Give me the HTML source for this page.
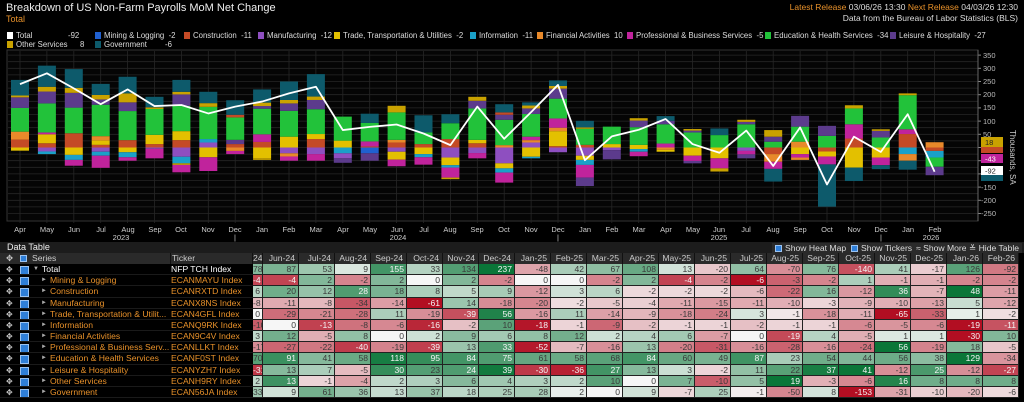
<!DOCTYPE html>
<html><head><meta charset="utf-8">
<style>
*{margin:0;padding:0;box-sizing:border-box}
body{width:1024px;height:402px;background:#000;overflow:hidden;font-family:"Liberation Sans",sans-serif;color:#ddd;position:relative}
.a{position:absolute;white-space:nowrap}
.lg{position:absolute;font-size:7.8px;color:#ddd;white-space:nowrap;top:0}
.sq{display:inline-block;width:6px;height:7px;vertical-align:-1px;margin-right:3px}
#tbl{position:absolute;left:0;top:253px;width:1024px;display:grid;grid-template-columns:171px 82px 10px repeat(21,36px);grid-template-rows:11px repeat(12,11.18px);font-family:"Liberation Sans",sans-serif;font-size:8.6px}
#tbl div{overflow:hidden;white-space:nowrap;line-height:11px}
.h{background:#2a2a2a;color:#ccc;text-align:right;padding-right:3px;border-right:1px solid #111}
.c{text-align:right;padding-right:2px;border-right:1px solid #222;border-bottom:1px solid #222}
.s{color:#e8912a;background:#000;position:relative;padding-left:50px;border-bottom:1px solid #1a1a1a}
.t{color:#e8912a;background:#000;border-bottom:1px solid #1a1a1a}
.s:before{content:"✥";position:absolute;left:6px;top:0;color:#ccc;font-size:8px}
.s:after{content:"";position:absolute;left:20px;top:2px;width:7px;height:7px;background:#2f7fd8;border:1px solid #9cc3f0}
.ar{position:absolute;left:41px;color:#aaa;font-size:6px}
.btn{position:absolute;top:243px;height:10px;background:#2a2a2a;color:#ddd;font-size:8.6px;line-height:10px;padding:0 3px;font-family:"Liberation Sans",sans-serif}
.cb{display:inline-block;width:7px;height:7px;background:#2f7fd8;border:1px solid #9cc3f0;margin-right:3px;vertical-align:-1px}
</style></head><body>
<div class="a" style="left:6px;top:2px;font-size:11px;color:#eee">Breakdown of US Non-Farm Payrolls MoM Net Change</div>
<div class="a" style="left:6px;top:14px;font-size:9px;color:#e8912a">Total</div>
<div class="a" style="right:6px;top:2px;font-size:8.5px"><span style="color:#e8912a">Latest Release</span> <span style="color:#ddd">03/06/26 13:30</span> <span style="color:#e8912a">Next Release</span> <span style="color:#ddd">04/03/26 12:30</span></div>
<div class="a" style="right:6px;top:13px;font-size:8.5px;color:#ddd">Data from the Bureau of Labor Statistics (BLS)</div>

<div class="a" style="left:0;top:30px;width:1024px;height:20px;">
<div class="lg" style="left:7px;top:1px"><span class="sq" style="background:#fff"></span>Total</div><div class="lg" style="left:68px;top:1px">-92</div>
<div class="lg" style="left:95px;top:1px"><span class="sq" style="background:#2060d0"></span>Mining &amp; Logging&nbsp; -2</div>
<div class="lg" style="left:184px;top:1px"><span class="sq" style="background:#c44a26"></span>Construction&nbsp; -11</div>
<div class="lg" style="left:258px;top:1px"><span class="sq" style="background:#8e4fc0"></span>Manufacturing&nbsp; -12</div>
<div class="lg" style="left:334px;top:1px"><span class="sq" style="background:#e3c000"></span>Trade, Transportation &amp; Utilities&nbsp; -2</div>
<div class="lg" style="left:470px;top:1px"><span class="sq" style="background:#1aa0c8"></span>Information&nbsp; -11</div>
<div class="lg" style="left:537px;top:1px"><span class="sq" style="background:#e8892a"></span>Financial Activities&nbsp; 10</div>
<div class="lg" style="left:627px;top:1px"><span class="sq" style="background:#c0239c"></span>Professional &amp; Business Services&nbsp; -5</div>
<div class="lg" style="left:765px;top:1px"><span class="sq" style="background:#22c23a"></span>Education &amp; Health Services&nbsp; -34</div>
<div class="lg" style="left:890px;top:1px"><span class="sq" style="background:#5c3b8c"></span>Leisure &amp; Hospitality&nbsp; -27</div>
<div class="lg" style="left:7px;top:10px"><span class="sq" style="background:#c9a200"></span>Other Services</div><div class="lg" style="left:80px;top:10px">8</div>
<div class="lg" style="left:95px;top:10px"><span class="sq" style="background:#0d5a6b"></span>Government</div><div class="lg" style="left:165px;top:10px">-6</div>
</div>

<svg class="a" style="left:0;top:0" width="1024" height="242" id="ch" font-family="Liberation Sans, sans-serif">
<rect x="7" y="50" width="971" height="171" fill="#050505" stroke="#333" stroke-width="1"/>
<g id="grid"></g><g id="bars"></g>
<polyline id="ln" fill="none" stroke="#fff" stroke-width="1.8" stroke-linejoin="round"/>
<line x1="978" y1="50" x2="978" y2="221" stroke="#666"/>
<g font-size="7.5" fill="#bbb" id="yl">
<text x="983" y="58">350</text><text x="983" y="71">300</text><text x="983" y="84">250</text><text x="983" y="97">200</text><text x="983" y="110">150</text><text x="983" y="124">100</text><text x="983" y="137">50</text><text x="981" y="190">-150</text><text x="981" y="203">-200</text><text x="981" y="216">-250</text>
</g>
<rect x="981" y="147" width="22" height="6" fill="#c44a26"/>
<rect x="981" y="137" width="22" height="10" fill="#c9a200"/><text x="985" y="145" font-size="7.5" fill="#222">18</text>
<rect x="981" y="154" width="22" height="9" fill="#c0239c"/><text x="985" y="161.5" font-size="7.5" fill="#fff">-43</text>
<rect x="981" y="174" width="22" height="7" fill="#0d5a6b"/>
<rect x="981" y="166" width="22" height="9" fill="#fff"/><text x="985" y="173.5" font-size="7.5" fill="#222">-92</text>
<text transform="translate(1010,130) rotate(90)" font-size="8" fill="#ccc">Thousands, SA</text>
<g font-size="7.5" fill="#ccc" text-anchor="middle" id="xl">
<text x="20" y="232">Apr</text><text x="47" y="232">May</text><text x="74" y="232">Jun</text><text x="101" y="232">Jul</text><text x="128" y="232">Aug</text><text x="155" y="232">Sep</text><text x="181" y="232">Oct</text><text x="208" y="232">Nov</text><text x="235" y="232">Dec</text><text x="262" y="232">Jan</text><text x="289" y="232">Feb</text><text x="316" y="232">Mar</text><text x="343" y="232">Apr</text><text x="370" y="232">May</text><text x="397" y="232">Jun</text><text x="424" y="232">Jul</text><text x="450" y="232">Aug</text><text x="477" y="232">Sep</text><text x="504" y="232">Oct</text><text x="531" y="232">Nov</text><text x="558" y="232">Dec</text><text x="585" y="232">Jan</text><text x="612" y="232">Feb</text><text x="639" y="232">Mar</text><text x="666" y="232">Apr</text><text x="693" y="232">May</text><text x="719" y="232">Jun</text><text x="746" y="232">Jul</text><text x="773" y="232">Aug</text><text x="800" y="232">Sep</text><text x="827" y="232">Oct</text><text x="854" y="232">Nov</text><text x="881" y="232">Dec</text><text x="908" y="232">Jan</text><text x="935" y="232">Feb</text>
<text x="121" y="240">2023</text><text x="398" y="240">2024</text><text x="719" y="240">2025</text><text x="931" y="240">2026</text>
<text x="235" y="240">|</text><text x="558" y="240">|</text><text x="881" y="240">|</text>
</g>
</svg>

<div class="a" style="left:0;top:242px;width:1024px;height:11px;background:#1c1c1c"></div>
<div class="a" style="left:7px;top:242px;font-size:9px;line-height:11px;color:#eee;font-family:'Liberation Sans',sans-serif">Data Table</div>
<div class="btn" style="left:772px"><span class="cb"></span>Show Heat Map</div>
<div class="btn" style="left:848px"><span class="cb"></span>Show Tickers</div>
<div class="btn" style="left:913px">≈ Show More</div>
<div class="btn" style="left:966px">≚ Hide Table</div>

<div id="tbl">
<div class="h" style="text-align:left;padding-left:32px;position:relative"><span style="position:absolute;left:6px;color:#ccc">✥</span><span class="cb" style="position:absolute;left:20px;top:2px"></span>Series</div><div class="h" style="text-align:left;padding-left:1px">Ticker</div><div class="h">24</div><div class="h">Jun-24</div><div class="h">Jul-24</div><div class="h">Aug-24</div><div class="h">Sep-24</div><div class="h">Oct-24</div><div class="h">Nov-24</div><div class="h">Dec-24</div><div class="h">Jan-25</div><div class="h">Feb-25</div><div class="h">Mar-25</div><div class="h">Apr-25</div><div class="h">May-25</div><div class="h">Jun-25</div><div class="h">Jul-25</div><div class="h">Aug-25</div><div class="h">Sep-25</div><div class="h">Oct-25</div><div class="h">Nov-25</div><div class="h">Dec-25</div><div class="h">Jan-26</div><div class="h">Feb-26</div>
</div>
<script>
var rows=[
["Total","NFP TCH Index",[78,87,53,9,155,33,134,237,-48,42,67,108,13,-20,64,-70,76,-140,41,-17,126,-92]],
["Mining & Logging","ECANMAYU Index",[-4,-4,2,-2,2,0,2,-2,0,0,-2,2,-4,-2,-6,-3,-2,1,-1,-1,-2,-2]],
["Construction","ECANRXTD Index",[6,20,12,28,18,8,5,9,-12,3,6,-2,-2,-2,-6,-22,16,-12,36,-7,48,-11]],
["Manufacturing","ECANX8NS Index",[-8,-11,-8,-34,-14,-61,14,-18,-20,-2,-5,-4,-11,-15,-11,-10,-3,-9,-10,-13,5,-12]],
["Trade, Transportation & Utilit...","ECAN4GFL Index",[0,-29,-21,-28,11,-19,-39,56,-16,11,-14,-9,-18,-24,3,-1,-18,-11,-65,-33,1,-2]],
["Information","ECANQ9RK Index",[-10,0,-13,-8,-6,-16,-2,10,-18,-1,-9,-2,-1,-1,-2,-1,-1,-6,-5,-6,-19,-11]],
["Financial Activities","ECAN9C4V Index",[3,12,-5,8,0,2,9,6,8,12,2,4,6,-7,0,-19,4,-5,1,1,-30,10]],
["Professional & Business Serv...","ECANLLKT Index",[-17,-27,-22,-40,-19,-39,13,33,-52,-7,-16,13,-20,-31,-16,-28,-16,-24,56,-19,18,-5]],
["Education & Health Services","ECANF0ST Index",[70,91,41,58,118,95,84,75,61,58,68,84,60,49,87,23,54,44,56,38,129,-34]],
["Leisure & Hospitality","ECANYZH7 Index",[-31,13,7,-5,30,23,24,39,-30,-36,27,13,3,-2,11,22,37,41,-12,25,-12,-27]],
["Other Services","ECANH9RY Index",[2,13,-1,-4,2,3,6,4,3,2,10,0,7,-10,5,19,-3,-6,16,8,8,8]],
["Government","ECAN56JA Index",[33,9,61,36,13,37,18,25,28,2,0,9,-7,25,-1,-50,8,-153,-31,-10,-20,-6]]];
var T=document.getElementById('tbl'),h='';
function mix(a,b,t){return 'rgb('+a.map(function(x,i){return Math.round(x+(b[i]-x)*t)}).join(',')+')'}
rows.forEach(function(r,ri){
 var mx=Math.max.apply(null,r[2].map(Math.abs))||1;
 var s=r[0].replace(/&/g,'&amp;');
 if(ri==0) h+='<div class="s" style="color:#fff;padding-left:42px"><span class="ar" style="left:33px">▼</span>'+s+'</div><div class="t" style="color:#fff">'+r[1]+'</div>';
 else h+='<div class="s"><span class="ar">►</span>'+s+'</div><div class="t">'+r[1]+'</div>';
 r[2].forEach(function(v){var t=Math.pow(Math.abs(v)/mx,0.65);
  var bg=v>=0?mix([246,246,246],[10,118,56],t):mix([246,246,246],[178,14,34],t);
  var fc=t>0.7?'#f4f4f4':'#3a3a3a';
  h+='<div class="c" style="background:'+bg+';color:'+fc+'">'+v+'</div>';});
});
T.insertAdjacentHTML('beforeend',h);

function X(i){return 20+i*26.9} function Y(v){return 147.5-v*0.264}
var g=document.getElementById('grid'),gs='';
for(var v=-275;v<=375;v+=25){var y=Y(v);if(y<51||y>220)continue;gs+='<line x1="8" x2="978" y1="'+y+'" y2="'+y+'" stroke="#262626" stroke-width="0.8"/>';
 if(v%50==0)gs+='<line x1="978" x2="981" y1="'+y+'" y2="'+y+'" stroke="#888"/>';}
for(var i=0;i<35;i++){gs+='<line x1="'+X(i)+'" x2="'+X(i)+'" y1="51" y2="223" stroke="#262626" stroke-width="0.8"/>';}
g.innerHTML=gs;
var C={T:'#0d5a6b',L:'#5c3b8c',M:'#8e4fc0',G:'#22c23a',O:'#c9a200',Y:'#e3c000',F:'#e8892a',R:'#c44a26',P:'#c0239c',C:'#1aa0c8',B:'#2060d0'};
var D=[
["R30 F30 G90 L40 O7 T59","Y12",240],
["R16 Y34 P7 G110 L45 O18 T80","M15 C10",281],
["R54 G97 L56 O19 T71","Y28 C19 P22",224],
["R10 Y17 F16 G119 L20 O17 T42","M16 C15 P46",164],
["R28 G110 L33 O34 T63","Y18 C19 P13",220],
["R13 Y35 G98 O6 T40","M5 P36",157],
["R28 Y34 G96 L43 O10 T45","M35 C25 O6 P28",161],
["M19 C13 G122 O14 T43","Y37 P52",129],
["R13 L16 G85 R10 T55","F13 P12",155],
["R21 P29 G97 L10 O13 T50","Y41 O6",174],
["Y41 G98 L28 O13 T70","M22 F12 P16",205],
["R32 Y19 G94 L35 O13 T85","M25 P25",230],
["Y26 G91","C22 M19 L17",66],
["R4 P19 G70 T35","B22 L28",78],
["R19 F10 G104 O25","M16 Y30 P25",87],
["R13 G44 T65","Y25 C12 P28",53],
["R32 G60 T34","M38 Y29 C9 P38 O6",9],
["R16 Y13 G119 L29 O15","M21 P20",155],
["F9 G96 L19 R9 T31","M60 Y19 C16 P38",33],
["M19 F9 P13 G86 L21 O11 T12","Y35 C6",134],
["R5 Y57 F13 P35 G75 L38 O10 T21","M18",237],
["R10 G61 O5 T25","M31 Y16 C19 P48 L32",-48],
["Y13 G66","M10 L35",42],
["Y10 G67 L25 O9","Y6 C10 P17",67],
["P15 G73 L13 T18","F9 Y7",108],
["G57 L7 O6","Y31 P20 L9",13],
["G47 T25","Y41 P38 O12",-20],
["G88 L9 O8","M13 P13 L15",64],
["G22 L19 O25","R25 F29 P27 T48",-70],
["F22 G57 L41","Y25 P13 F9",76],
["G44 L38","R15 Y19 P30 T160",-140],
["R34 P54 G60 O12","Y76 T51",41],
["G38 L25 O6","Y38 P29 T15",-17],
["R51 P18 G129 O7","C25 F25 T34",126],
["F20","R13 C25 G35 L32",-92]];
var bs='',pts=[];
D.forEach(function(d,i){var x=X(i)-9,c=0;
 d[0].split(' ').forEach(function(s){var k=s[0],hh=+s.slice(1);bs+='<rect x="'+x+'" width="18" y="'+Y(c+hh)+'" height="'+(hh*0.264)+'" fill="'+C[k]+'"/>';c+=hh;});
 c=0;d[1].split(' ').forEach(function(s){var k=s[0],hh=+s.slice(1);bs+='<rect x="'+x+'" width="18" y="'+Y(c)+'" height="'+(hh*0.264)+'" fill="'+C[k]+'"/>';c-=hh;});
 pts.push(X(i)+','+Y(d[2]));});
document.getElementById('bars').innerHTML=bs;
document.getElementById('ln').setAttribute('points',pts.join(' '));
</script>
</body></html>
